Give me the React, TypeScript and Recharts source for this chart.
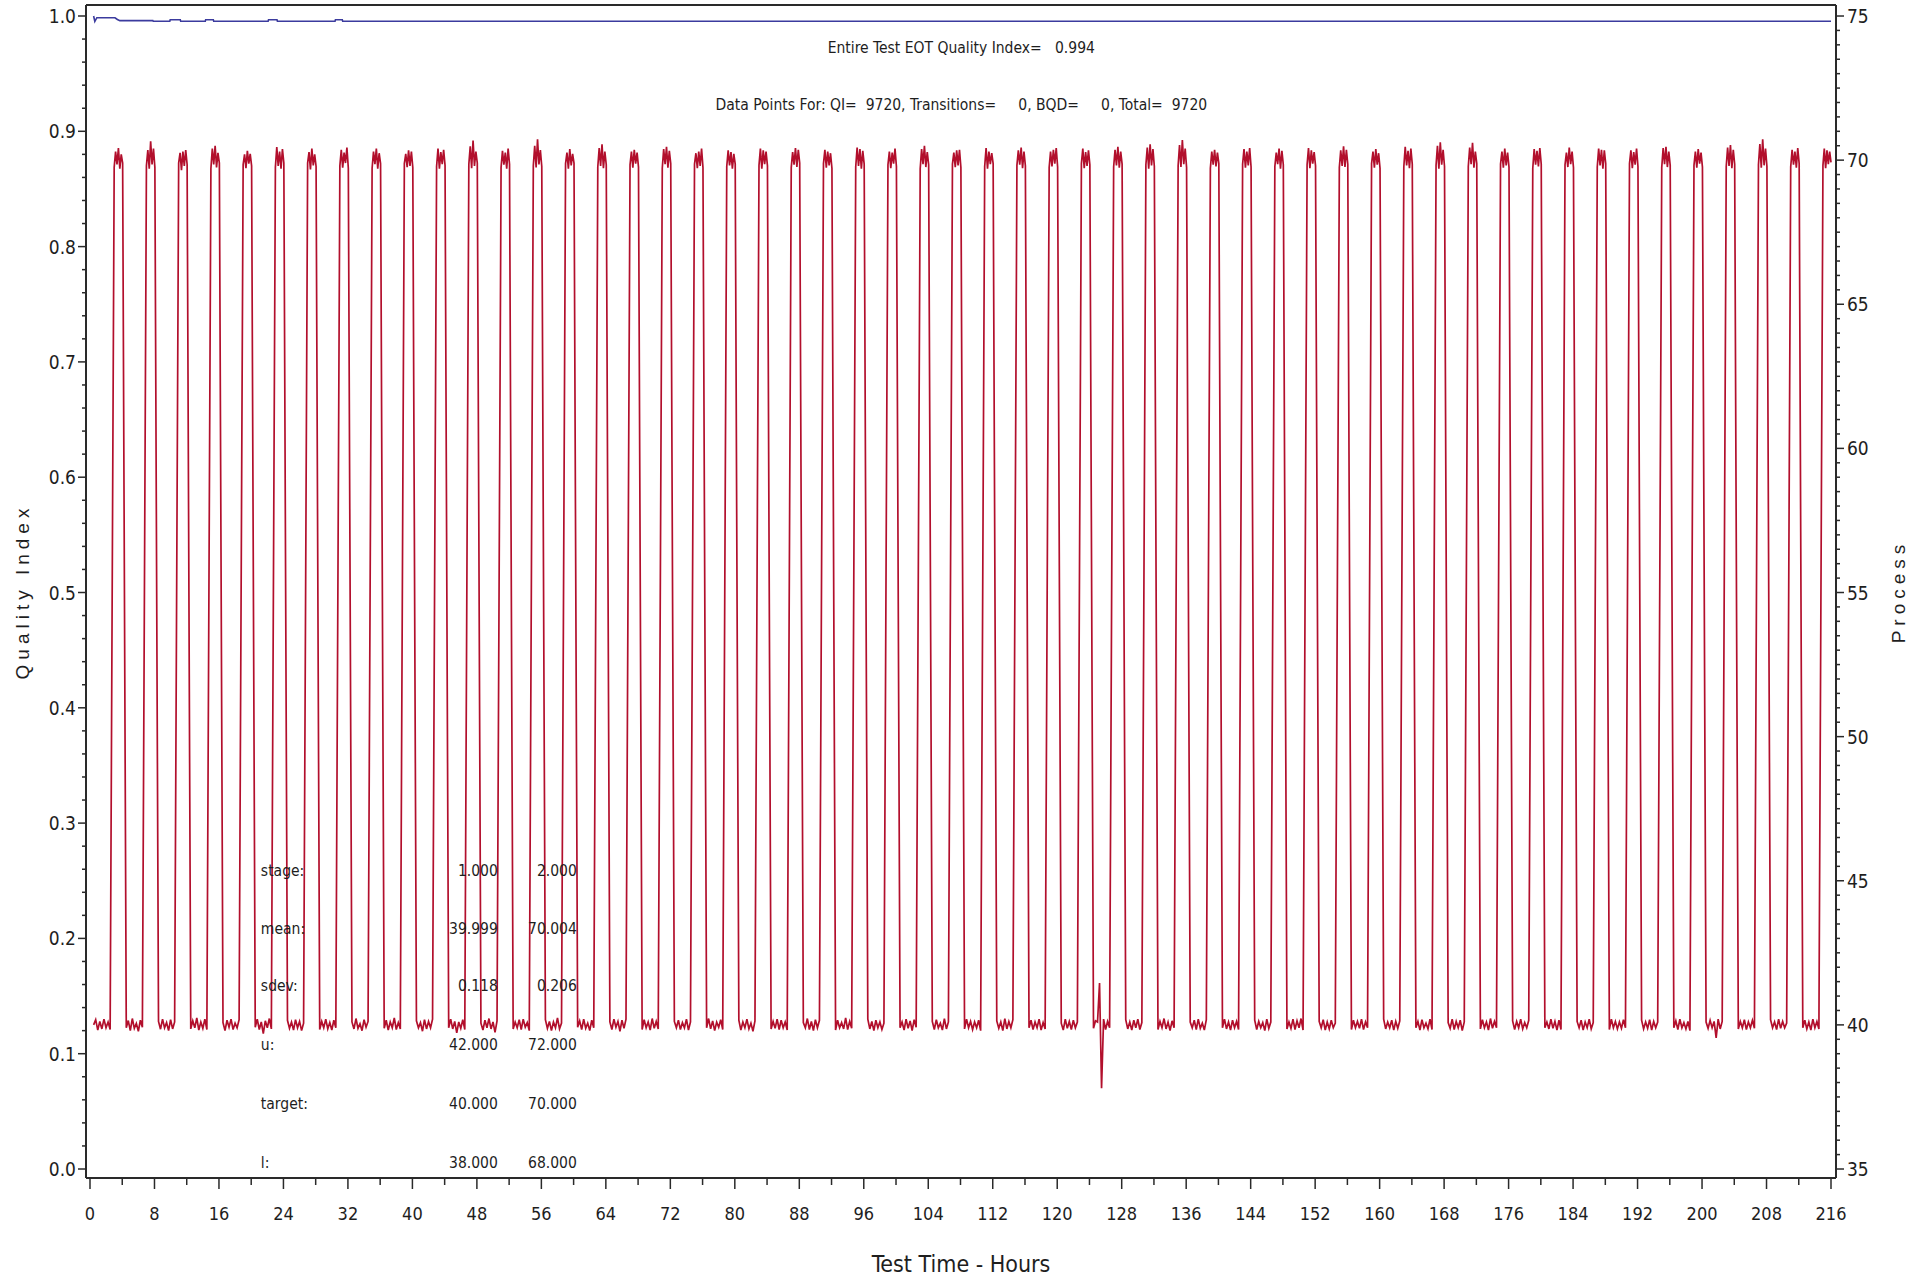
import React from 'react';
import { ComposedChart, Line, XAxis, YAxis, ReferenceDot, ReferenceLine } from 'recharts';

// ---------- axis ticks / labels ----------
const hourMajorTicks = [0, 8, 16, 24, 32, 40, 48, 56, 64, 72, 80, 88, 96, 104, 112, 120, 128, 136, 144, 152, 160, 168, 176, 184, 192, 200, 208, 216];
const hourTickLabels = ['0', '8', '16', '24', '32', '40', '48', '56', '64', '72', '80', '88', '96', '104', '112', '120', '128', '136', '144', '152', '160', '168', '176', '184', '192', '200', '208', '216'];
const qiMajorTicks = [0, 0.1, 0.2, 0.3, 0.4, 0.5, 0.6, 0.7, 0.8, 0.9, 1.0];
const qiTickLabels = ['0.0', '0.1', '0.2', '0.3', '0.4', '0.5', '0.6', '0.7', '0.8', '0.9', '1.0'];
const processMajorTicks = [35, 40, 45, 50, 55, 60, 65, 70, 75];
const processTickLabels = ['35', '40', '45', '50', '55', '60', '65', '70', '75'];

// ---------- Quality Index series (blue) ----------
const qiHours = [0.45, 0.6, 0.85, 3.1, 3.4, 3.7, 7.8, 7.85, 9.9, 9.95, 11.2, 11.25, 14.3, 14.35, 15.3, 15.35, 22.1, 22.15, 23.2, 23.25, 30.4, 30.45, 31.3, 31.35, 216];
const qiValues = [1.0, 0.9952, 0.9985, 0.9985, 0.997, 0.996, 0.996, 0.9954, 0.9954, 0.9967, 0.9967, 0.9954, 0.9954, 0.9967, 0.9967, 0.9954, 0.9954, 0.9967, 0.9967, 0.9954, 0.9954, 0.9967, 0.9967, 0.9954, 0.9954];

// ---------- Process series (red) ----------
const cycleStartHours = [0, 4, 8, 12, 16, 20, 24, 28, 32, 36, 40, 44, 48, 52, 56, 60, 64, 68, 72, 76, 80, 84, 88, 92, 96, 100, 104, 108, 112, 116, 120, 124, 128, 132, 136, 140, 144, 148, 152, 156, 160, 164, 168, 172, 176, 180, 184, 188, 192, 196, 200, 204, 208, 212];
const firstSampleHour = 0.45;
const lastSampleHour = 216;
const lowPlateauHours = [0.5, 2.5]; // offset within a cycle
const highPlateauHours = [3.0, 4.05];

const lowReadings: number[][] = [
  [40.0, 40.18, 39.82, 40.12, 39.86, 40.2, 39.9, 40.1, 39.84],
  [39.9, 40.15, 39.8, 40.22, 39.88, 40.05, 39.78, 40.16, 39.92],
  [40.12, 39.85, 40.2, 39.9, 40.08, 39.8, 40.18, 39.86, 40.1],
  [39.86, 40.14, 39.9, 40.24, 39.82, 40.1, 39.88, 40.2, 39.84],
  [40.08, 39.8, 40.16, 39.92, 40.2, 39.84, 40.06, 39.9, 40.18],
  [39.92, 40.2, 39.84, 40.1, 39.7, 40.14, 39.9, 40.22, 39.86],
  [40.16, 39.88, 40.1, 39.82, 40.18, 39.9, 40.12, 39.8, 40.06],
  [39.84, 40.12, 39.9, 40.2, 39.86, 40.08, 39.82, 40.16, 39.9],
  [40.1, 39.86, 40.22, 39.88, 40.04, 39.8, 40.18, 39.92, 40.12],
  [39.88, 40.16, 39.82, 40.1, 39.9, 40.24, 39.84, 40.08, 39.86],
  [40.14, 39.9, 40.08, 39.78, 40.18, 39.86, 40.12, 39.9, 40.2],
  [39.9, 40.2, 39.86, 40.12, 39.72, 40.1, 39.88, 40.18, 39.84],
  [40.06, 39.82, 40.16, 39.9, 40.22, 39.86, 40.1, 39.74, 40.14],
  [39.86, 40.1, 39.9, 40.18, 39.84, 40.2, 39.92, 40.08, 39.8],
  [40.18, 39.88, 40.12, 39.8, 40.1, 39.9, 40.24, 39.86, 40.06],
  [39.92, 40.14, 39.84, 40.2, 39.88, 40.06, 39.8, 40.16, 39.9],
  [40.1, 39.84, 40.2, 39.92, 40.12, 39.78, 40.16, 39.88, 40.2],
  [39.84, 40.18, 39.9, 40.1, 39.82, 40.22, 39.88, 40.12, 39.86],
  [40.12, 39.9, 40.16, 39.84, 40.08, 39.9, 40.2, 39.82, 40.1],
  [39.9, 40.22, 39.86, 40.14, 39.8, 40.1, 39.92, 40.18, 39.84],
  [40.16, 39.82, 40.1, 39.9, 40.2, 39.86, 40.06, 39.78, 40.14],
  [39.86, 40.12, 39.88, 40.2, 39.84, 40.16, 39.9, 40.1, 39.82],
  [40.08, 39.9, 40.22, 39.84, 40.12, 39.8, 40.18, 39.9, 40.16],
  [39.82, 40.16, 39.9, 40.08, 39.86, 40.24, 39.84, 40.12, 39.88],
  [40.2, 39.86, 40.12, 39.8, 40.16, 39.9, 40.1, 39.84, 40.06],
  [39.9, 40.1, 39.82, 40.2, 39.88, 40.14, 39.8, 40.18, 39.92],
  [40.12, 39.84, 40.18, 39.9, 40.06, 39.82, 40.22, 39.86, 40.1],
  [39.86, 40.2, 39.9, 40.12, 39.84, 40.1, 39.9, 40.16, 39.8],
  [40.14, 39.88, 40.1, 39.8, 40.22, 39.86, 40.12, 39.9, 40.18],
  [39.9, 40.16, 39.84, 40.1, 39.9, 40.2, 39.82, 40.08, 39.86],
  [40.06, 39.82, 40.2, 39.88, 40.12, 39.84, 40.16, 39.9, 40.1],
  [39.88, 40.14, 40.1, 41.45, 37.8, 40.2, 39.84, 40.12, 39.9],
  [40.18, 39.86, 40.1, 39.82, 40.16, 39.9, 40.2, 39.84, 40.08],
  [39.84, 40.12, 39.9, 40.22, 39.86, 40.1, 39.8, 40.14, 39.9],
  [40.1, 39.9, 40.16, 39.84, 40.2, 39.88, 40.06, 39.82, 40.18],
  [39.9, 40.2, 39.86, 40.1, 39.82, 40.16, 39.9, 40.12, 39.84],
  [40.16, 39.84, 40.12, 39.9, 40.08, 39.8, 40.2, 39.88, 40.1],
  [39.86, 40.1, 39.88, 40.2, 39.84, 40.14, 39.9, 40.22, 39.82],
  [40.12, 39.9, 40.18, 39.82, 40.1, 39.86, 40.16, 39.9, 40.06],
  [39.84, 40.16, 39.9, 40.12, 39.88, 40.2, 39.84, 40.1, 39.9],
  [40.2, 39.86, 40.1, 39.9, 40.16, 39.82, 40.12, 39.88, 40.14],
  [39.9, 40.12, 39.82, 40.18, 39.9, 40.06, 39.86, 40.2, 39.84],
  [40.08, 39.88, 40.2, 39.84, 40.12, 39.9, 40.16, 39.8, 40.1],
  [39.86, 40.18, 39.9, 40.1, 39.82, 40.22, 39.88, 40.12, 39.9],
  [40.14, 39.84, 40.12, 39.9, 40.2, 39.86, 40.08, 39.9, 40.16],
  [39.9, 40.1, 39.86, 40.2, 39.88, 40.12, 39.82, 40.16, 39.84],
  [40.12, 39.9, 40.16, 39.82, 40.1, 39.9, 40.2, 39.86, 40.08],
  [39.84, 40.2, 39.9, 40.12, 39.86, 40.1, 39.88, 40.18, 39.9],
  [40.16, 39.86, 40.1, 39.88, 40.18, 39.82, 40.12, 39.9, 40.1],
  [39.9, 40.14, 39.84, 40.2, 39.9, 40.08, 39.86, 40.12, 39.8],
  [40.1, 39.88, 40.16, 39.9, 40.12, 39.55, 40.2, 39.86, 40.12],
  [39.86, 40.12, 39.9, 40.18, 39.84, 40.1, 39.9, 40.16, 39.88],
  [40.18, 39.9, 40.1, 39.84, 40.2, 39.88, 40.12, 39.9, 40.06],
  [39.9, 40.16, 39.86, 40.1, 39.82, 40.2, 39.9, 40.12, 39.86],
];

const highReadings: number[][] = [
  [69.75, 70.3, 69.85, 70.42, 69.7, 70.2, 69.9],
  [69.8, 70.35, 69.7, 70.65, 69.85, 70.4, 69.75],
  [69.9, 70.25, 69.65, 70.3, 69.8, 70.35, 69.85],
  [69.7, 70.4, 69.85, 70.5, 69.75, 70.25, 69.9],
  [69.85, 70.2, 69.72, 70.32, 69.88, 70.22, 69.8],
  [69.75, 70.45, 69.8, 70.3, 69.7, 70.38, 69.9],
  [69.9, 70.28, 69.68, 70.4, 69.82, 70.2, 69.78],
  [69.8, 70.36, 69.74, 70.26, 69.9, 70.44, 69.72],
  [69.72, 70.3, 69.86, 70.4, 69.7, 70.24, 69.88],
  [69.88, 70.22, 69.76, 70.34, 69.8, 70.3, 69.74],
  [69.78, 70.4, 69.7, 70.28, 69.86, 70.36, 69.82],
  [69.85, 70.48, 69.72, 70.68, 69.8, 70.3, 69.9],
  [69.74, 70.32, 69.84, 70.26, 69.7, 70.4, 69.86],
  [69.8, 70.5, 69.75, 70.72, 69.85, 70.35, 69.78],
  [69.88, 70.26, 69.7, 70.38, 69.82, 70.22, 69.9],
  [69.76, 70.42, 69.8, 70.55, 69.72, 70.3, 69.84],
  [69.84, 70.3, 69.74, 70.36, 69.88, 70.26, 69.76],
  [69.72, 70.38, 69.86, 70.46, 69.74, 70.32, 69.88],
  [69.86, 70.24, 69.72, 70.3, 69.8, 70.4, 69.74],
  [69.78, 70.34, 69.82, 70.28, 69.7, 70.22, 69.86],
  [69.82, 70.4, 69.7, 70.34, 69.86, 70.3, 69.8],
  [69.74, 70.28, 69.84, 70.42, 69.76, 70.36, 69.9],
  [69.88, 70.36, 69.74, 70.3, 69.82, 70.24, 69.72],
  [69.76, 70.44, 69.8, 70.38, 69.7, 70.32, 69.86],
  [69.84, 70.3, 69.72, 70.26, 69.88, 70.4, 69.78],
  [69.7, 70.38, 69.86, 70.5, 69.76, 70.28, 69.84],
  [69.86, 70.26, 69.76, 70.34, 69.82, 70.36, 69.74],
  [69.78, 70.42, 69.7, 70.3, 69.86, 70.24, 69.88],
  [69.82, 70.34, 69.84, 70.44, 69.72, 70.3, 69.8],
  [69.74, 70.3, 69.78, 70.36, 69.88, 70.42, 69.76],
  [69.88, 70.4, 69.72, 70.28, 69.8, 70.34, 69.84],
  [69.76, 70.36, 69.82, 70.46, 69.74, 70.3, 69.86],
  [69.84, 70.44, 69.7, 70.55, 69.82, 70.38, 69.78],
  [69.8, 70.52, 69.76, 70.7, 69.86, 70.4, 69.74],
  [69.72, 70.3, 69.84, 70.36, 69.78, 70.26, 69.88],
  [69.86, 70.38, 69.74, 70.3, 69.82, 70.42, 69.76],
  [69.78, 70.26, 69.86, 70.4, 69.7, 70.32, 69.84],
  [69.84, 70.42, 69.72, 70.34, 69.88, 70.28, 69.8],
  [69.74, 70.34, 69.8, 70.48, 69.76, 70.36, 69.86],
  [69.88, 70.3, 69.74, 70.38, 69.84, 70.24, 69.72],
  [69.76, 70.46, 69.82, 70.32, 69.72, 70.4, 69.86],
  [69.82, 70.5, 69.7, 70.62, 69.84, 70.36, 69.78],
  [69.78, 70.44, 69.86, 70.6, 69.74, 70.3, 69.88],
  [69.86, 70.3, 69.74, 70.4, 69.82, 70.26, 69.76],
  [69.72, 70.38, 69.84, 70.32, 69.78, 70.42, 69.86],
  [69.84, 70.26, 69.76, 70.44, 69.86, 70.3, 69.74],
  [69.76, 70.4, 69.82, 70.36, 69.7, 70.34, 69.88],
  [69.88, 70.34, 69.72, 70.28, 69.84, 70.4, 69.78],
  [69.74, 70.42, 69.86, 70.46, 69.76, 70.3, 69.82],
  [69.82, 70.3, 69.74, 70.38, 69.88, 70.26, 69.76],
  [69.78, 70.44, 69.8, 70.52, 69.72, 70.36, 69.86],
  [69.84, 70.56, 69.74, 70.72, 69.82, 70.4, 69.78],
  [69.76, 70.36, 69.84, 70.3, 69.74, 70.42, 69.88],
  [69.82, 70.4, 69.72, 70.34, 69.86, 70.3, 69.92],
];

// ---------- text annotations ----------
const headline = 'Entire Test EOT Quality Index=\u00A0\u00A0\u00A00.994';
const pointsLine = 'Data Points For: QI=\u00A0\u00A09720, Transitions=\u00A0\u00A0\u00A0\u00A0\u00A00, BQD=\u00A0\u00A0\u00A0\u00A0\u00A00, Total=\u00A0\u00A09720';
const statNames = ['stage:', 'mean:', 'sdev:', 'u:', 'target:', 'l:'];
const statStage1 = ['1.000', '39.999', '0.118', '42.000', '40.000', '38.000'];
const statStage2 = ['2.000', '70.004', '0.206', '72.000', '70.000', '68.000'];

// ---------- build series tables ----------
const qiData = qiHours.map((t, i) => ({ t, qi: qiValues[i] }));

const processData: { t: number; p: number }[] = [];
cycleStartHours.forEach((s, k) => {
  const lo = lowReadings[k];
  const a = k === 0 ? firstSampleHour : s + lowPlateauHours[0];
  const b = s + lowPlateauHours[1];
  lo.forEach((p, i) => processData.push({ t: a + ((b - a) * i) / (lo.length - 1), p }));
  const hi = highReadings[k];
  const c = s + highPlateauHours[0];
  const d = Math.min(s + highPlateauHours[1], lastSampleHour);
  hi.forEach((p, i) => processData.push({ t: c + ((d - c) * i) / (hi.length - 1), p }));
});

// ---------- layout constants ----------
const X_DOMAIN: [number, number] = [-0.496, 216.62];
const QI_DOMAIN: [number, number] = [-0.0078, 1.00954];
const PROC_DOMAIN: [number, number] = [34.688, 75.382];

const hourAllTicks = Array.from({ length: 55 }, (_, i) => i * 4);
const qiAllTicks = Array.from({ length: 51 }, (_, i) => Math.round(i * 2) / 100);
const procAllTicks = Array.from({ length: 81 }, (_, i) => 35 + i * 0.5);

const FONT_NARROW = "'Liberation Sans Narrow', 'DejaVu Sans Condensed', 'Liberation Sans', Arial, sans-serif";
const FONT_TITLE = "'Liberation Sans', Arial, sans-serif";
const INK = '#1e1e1e';
const FRAME = '#2a2a2a';

const BottomTick = (props: any) => {
  const { x, y, payload } = props;
  const v = payload.value;
  const idx = hourMajorTicks.indexOf(v);
  const major = idx >= 0;
  return (
    <g>
      <line x1={x} x2={x} y1={y} y2={y + (major ? 11 : 7)} stroke={FRAME} strokeWidth={1.5} />
      {major && (
        <text x={x} y={y + 35} textAnchor="middle" dominantBaseline="central" fontSize={18} fontFamily={FONT_NARROW} fill={INK}>
          {hourTickLabels[idx]}
        </text>
      )}
    </g>
  );
};

const LeftTick = (props: any) => {
  const { x, y, payload } = props;
  const v = payload.value;
  const idx = qiMajorTicks.findIndex((m) => Math.abs(m - v) < 1e-6);
  const major = idx >= 0;
  return (
    <g>
      <line x1={x} x2={x - (major ? 8 : 4)} y1={y} y2={y} stroke={FRAME} strokeWidth={1.5} />
      {major && (
        <text x={x - 10} y={y} textAnchor="end" dominantBaseline="central" fontSize={19} fontFamily={FONT_NARROW} fill={INK}>
          {qiTickLabels[idx]}
        </text>
      )}
    </g>
  );
};

const RightTick = (props: any) => {
  const { x, y, payload } = props;
  const v = payload.value;
  const idx = processMajorTicks.indexOf(v);
  const major = idx >= 0;
  return (
    <g>
      <line x1={x} x2={x + (major ? 8 : 4)} y1={y} y2={y} stroke={FRAME} strokeWidth={1.5} />
      {major && (
        <text x={x + 11} y={y} textAnchor="start" dominantBaseline="central" fontSize={19} fontFamily={FONT_NARROW} fill={INK}>
          {processTickLabels[idx]}
        </text>
      )}
    </g>
  );
};

// annotation positions (hours, quality index)
const HEADLINE_POS = [108.1, 0.9731];
const POINTS_POS = [108.1, 0.9232];
const STAT_ROWS = [0.259, 0.209, 0.159, 0.108, 0.057, 0.006];
const STAT_NAME_X = 21.2;
const STAT_COL1_X = 50.6;
const STAT_COL2_X = 60.4;

const textStyle = { fontSize: 15.5, fontFamily: FONT_NARROW, fill: INK };

export default function App() {
  return (
    <div style={{ position: 'absolute', left: 0, top: 0, width: 1929, height: 1280, background: '#fff' }}>
      <ComposedChart width={1929} height={1280} margin={{ top: 5, right: 0, bottom: 0, left: 0 }}>
        <XAxis
          xAxisId="x"
          type="number"
          dataKey="t"
          domain={X_DOMAIN}
          allowDataOverflow
          ticks={hourAllTicks}
          interval={0}
          tickSize={0}
          tickMargin={0}
          tickLine={false}
          tick={(p: any) => <BottomTick {...p} />}
          axisLine={{ stroke: FRAME, strokeWidth: 2 }}
          height={102}
          label={{ value: 'Test Time - Hours', position: 'insideBottom', offset: 8, fontSize: 23, fontFamily: FONT_NARROW, fill: INK }}
        />
        <YAxis
          yAxisId="qi"
          orientation="left"
          type="number"
          domain={QI_DOMAIN}
          allowDataOverflow
          ticks={qiAllTicks}
          interval={0}
          tickSize={0}
          tickMargin={0}
          tickLine={false}
          tick={(p: any) => <LeftTick {...p} />}
          axisLine={{ stroke: FRAME, strokeWidth: 2 }}
          width={86}
          label={{ value: 'Quality Index', angle: -90, position: 'insideLeft', offset: 22, fontSize: 19, fontFamily: FONT_TITLE, fill: INK, letterSpacing: 5, style: { textAnchor: 'middle' } }}
        />
        <YAxis
          yAxisId="proc"
          orientation="right"
          type="number"
          domain={PROC_DOMAIN}
          allowDataOverflow
          ticks={procAllTicks}
          interval={0}
          tickSize={0}
          tickMargin={0}
          tickLine={false}
          tick={(p: any) => <RightTick {...p} />}
          axisLine={{ stroke: FRAME, strokeWidth: 2 }}
          width={93}
          label={{ value: 'Process', angle: -90, position: 'insideRight', offset: 31, fontSize: 19, fontFamily: FONT_TITLE, fill: INK, letterSpacing: 5, style: { textAnchor: 'middle' } }}
        />
        <ReferenceLine xAxisId="x" yAxisId="qi" y={QI_DOMAIN[1]} stroke={FRAME} strokeWidth={2} />

        <Line
          xAxisId="x"
          yAxisId="proc"
          data={processData}
          dataKey="p"
          type="linear"
          stroke="#b20f2c"
          strokeWidth={1.7}
          dot={false}
          activeDot={false}
          isAnimationActive={false}
        />
        <Line
          xAxisId="x"
          yAxisId="qi"
          data={qiData}
          dataKey="qi"
          type="linear"
          stroke="#3b3b9e"
          strokeWidth={1.6}
          dot={false}
          activeDot={false}
          isAnimationActive={false}
        />

        <ReferenceDot xAxisId="x" yAxisId="qi" x={HEADLINE_POS[0]} y={HEADLINE_POS[1]} r={0} fill="none" stroke="none"
          label={{ value: headline, position: 'center', offset: 0, fontSize: 15.5, fontFamily: FONT_NARROW, fill: INK }} />
        <ReferenceDot xAxisId="x" yAxisId="qi" x={POINTS_POS[0]} y={POINTS_POS[1]} r={0} fill="none" stroke="none"
          label={{ value: pointsLine, position: 'center', offset: 0, fontSize: 15.5, fontFamily: FONT_NARROW, fill: INK }} />

        {statNames.map((name, i) => (
          <ReferenceDot key={'n' + i} xAxisId="x" yAxisId="qi" x={STAT_NAME_X} y={STAT_ROWS[i]} r={0} fill="none" stroke="none"
            label={{ value: name, position: 'right', offset: 0, ...textStyle }} />
        ))}
        {statStage1.map((val, i) => (
          <ReferenceDot key={'a' + i} xAxisId="x" yAxisId="qi" x={STAT_COL1_X} y={STAT_ROWS[i]} r={0} fill="none" stroke="none"
            label={{ value: val, position: 'left', offset: 0, ...textStyle }} />
        ))}
        {statStage2.map((val, i) => (
          <ReferenceDot key={'b' + i} xAxisId="x" yAxisId="qi" x={STAT_COL2_X} y={STAT_ROWS[i]} r={0} fill="none" stroke="none"
            label={{ value: val, position: 'left', offset: 0, ...textStyle }} />
        ))}
      </ComposedChart>
    </div>
  );
}
